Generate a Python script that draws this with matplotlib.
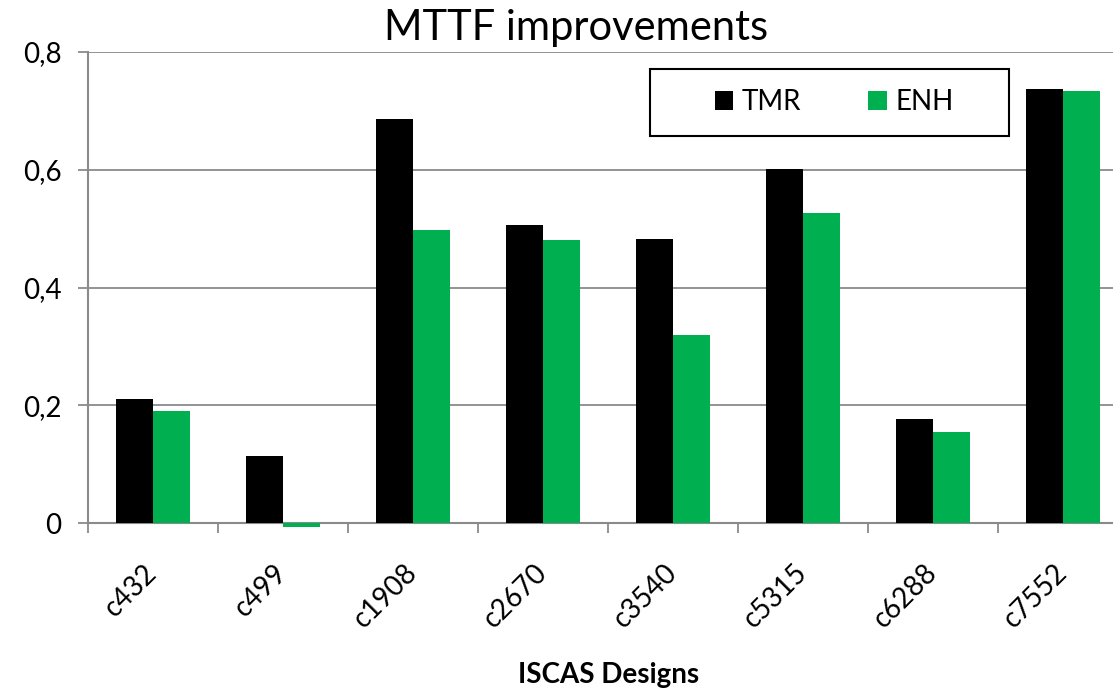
import matplotlib.pyplot as plt
from matplotlib.patches import Rectangle
import numpy as np

designs = ["c432", "c499", "c1908", "c2670", "c3540", "c5315", "c6288", "c7552"]
tmr = [0.211, 0.113, 0.687, 0.507, 0.483, 0.602, 0.177, 0.738]
enh = [0.191, -0.007, 0.497, 0.480, 0.320, 0.527, 0.154, 0.734]
y_ticks = [0, 0.2, 0.4, 0.6, 0.8]
y_labels = ["0", "0,2", "0,4", "0,6", "0,8"]

W, H = 1113, 691
plt.rcParams['font.family'] = ['Lato', 'DejaVu Sans']
grey = '#8a8a8a'

fig = plt.figure(figsize=(W / 100, H / 100), dpi=100)
# plot area runs past the right edge of the image, as in the reference
ax = fig.add_axes([88 / W, (H - 523) / H, (1128 - 88) / W, (523 - 52) / H])

x = np.arange(len(designs))
bw = 0.285
ax.bar(x - bw / 2, tmr, bw, color='black', label='TMR', clip_on=False, zorder=3)
ax.bar(x + bw / 2, enh, bw, color='#00B050', label='ENH', clip_on=False, zorder=3)

ax.set_xlim(-0.5, len(designs) - 0.5)
ax.set_ylim(0, 0.8)
ax.set_yticks(y_ticks)
ax.set_yticklabels(y_labels, fontsize=20)
ax.yaxis.grid(True, color=grey, linewidth=1.3, zorder=0)
ax.set_axisbelow(True)

ax.set_xticks(x)
ax.set_xticklabels(designs, fontsize=20, rotation=45, ha='right', va='center',
                   rotation_mode='anchor')
ax.set_xticks(np.arange(len(designs) + 1) - 0.5, minor=True)
ax.tick_params(axis='x', which='major', length=0, pad=33)
ax.tick_params(axis='x', which='minor', length=7, width=1.3, color=grey, direction='out')
ax.tick_params(axis='y', length=7, width=1.3, color=grey, direction='out', pad=12)

for s in ['top', 'right']:
    ax.spines[s].set_visible(False)
for s in ['left', 'bottom']:
    ax.spines[s].set_color(grey)
    ax.spines[s].set_linewidth(1.5)

fig.text(576 / W, 1 - 40 / H, "MTTF improvements", fontsize=30, ha='center', va='baseline')
fig.text(609 / W, 1 - 683 / H, "ISCAS Designs", fontsize=20, fontweight='bold',
         ha='center', va='baseline')

# legend box drawn separately so its size matches the reference
ax.add_patch(Rectangle((650 / W, 1 - 136 / H), (1009 - 650) / W, (136 - 69) / H,
                       transform=fig.transFigure, facecolor='white',
                       edgecolor='black', linewidth=1.5, zorder=4, clip_on=False))
leg = ax.legend(loc='center', bbox_to_anchor=(834 / W, 1 - 102 / H),
                bbox_transform=fig.transFigure, ncol=2, fontsize=20,
                frameon=False, handlelength=0.68, handleheight=0.68,
                handletextpad=0.3, columnspacing=2.4, borderpad=0, borderaxespad=0)
leg.set_zorder(5)

fig.savefig('out.png', dpi=100)
